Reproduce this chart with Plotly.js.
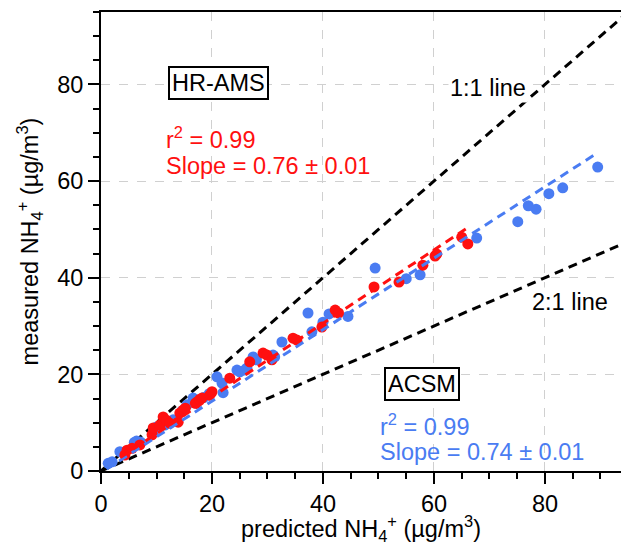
<!DOCTYPE html>
<html>
<head>
<meta charset="utf-8">
<script src="https://cdn.plot.ly/plotly-3.0.1.min.js"></script>
<style>html,body{margin:0;padding:0;background:#fff}#chart{width:621px;height:545px}</style>
</head>
<body>
<div id="chart"></div>
<script>
// ACSM (blue) predicted vs measured NH4+
const acsmX = [1.3,2.0,3.4,4.2,6.0,6.4,7.1,9.5,10.0,11.5,13.0,14.6,15.5,16.6,17.2,18.5,19.5,20.9,21.8,22.0,24.5,25.0,25.9,26.3,27.4,28.0,31.0,31.3,32.6,37.3,38.0,40.0,41.1,44.5,49.4,55.0,57.5,67.7,75.1,77.0,78.4,80.7,83.2,89.5];
const acsmY = [1.6,1.9,4.0,3.9,5.9,6.2,6.0,8.3,9.1,9.5,10.6,12.4,13.7,15.1,14.0,15.2,16.0,19.5,18.2,16.2,20.9,20.5,20.9,21.3,23.6,23.0,24.0,23.6,26.7,32.7,28.8,30.8,32.5,32.0,42.0,39.8,40.6,48.2,51.6,54.9,54.2,57.4,58.6,62.9];
// HR-AMS (red)
const amsX = [4.3,4.7,5.6,7.0,9.2,9.4,10.6,11.2,11.8,12.4,13.9,14.2,14.8,15.2,17.0,17.3,17.8,18.2,19.6,20.0,23.2,26.8,29.2,29.9,30.8,34.6,35.3,39.8,42.2,42.8,49.2,53.7,58.0,60.2,60.5,65.0,66.1];
const amsY = [3.3,4.3,4.7,5.4,7.5,8.9,9.5,11.2,10.5,9.9,10.1,12.0,12.6,13.0,14.0,14.3,14.8,15.1,15.7,16.4,19.2,22.6,24.4,24.0,23.0,27.5,27.1,29.8,33.3,32.7,38.1,39.1,42.6,44.5,44.9,48.4,47.0];
// fit lines
const amsFitX = [3.5, 66.0];
const amsFitY = [2.8, 50.3];
const acsmFitX = [1.0, 89.4];
const acsmFitY = [0.4, 65.8];
// reference lines
const oneToOneX = [0, 95];
const oneToOneY = [0, 95];
const twoToOneX = [0, 95];
const twoToOneY = [0, 47.5];

const BLUE = '#4a7cf2';
const RED = '#ff1010';
const F = '"Liberation Sans", Arial, sans-serif';
const FS = 23.5;

const traces = [
  {x: oneToOneX, y: oneToOneY, mode: 'lines', line: {color: '#000', width: 3, dash: '9px,6px'}, hoverinfo: 'skip'},
  {x: twoToOneX, y: twoToOneY, mode: 'lines', line: {color: '#000', width: 3, dash: '9px,6px'}, hoverinfo: 'skip'},
  {x: acsmX, y: acsmY, mode: 'markers', marker: {color: BLUE, size: 11}},
  {x: amsX, y: amsY, mode: 'markers', marker: {color: RED, size: 11}},
  {x: acsmFitX, y: acsmFitY, mode: 'lines', line: {color: BLUE, width: 3, dash: '9px,6px'}},
  {x: amsFitX, y: amsFitY, mode: 'lines', line: {color: RED, width: 3, dash: '9px,6px'}}
];

const layout = {
  width: 621, height: 545,
  margin: {l: 101, r: 0, t: 12, b: 74},
  showlegend: false,
  paper_bgcolor: '#fff', plot_bgcolor: '#fff',
  font: {family: F, size: FS, color: '#000'},
  xaxis: {
    range: [0, 93.7], tickvals: [0,20,40,60,80], ticks: 'outside', ticklen: 11, tickwidth: 2, tickcolor: '#000',
    showline: true, linewidth: 2, linecolor: '#000', mirror: true,
    showgrid: true, gridcolor: '#d0d0d0', gridwidth: 1, griddash: 'dash', zeroline: false,
    minor: {dtick: 5, ticks: 'outside', ticklen: 6, tickwidth: 2, tickcolor: '#000', showgrid: false},
    tickfont: {family: F, size: FS, color: '#000'},
    title: {text: 'predicted NH<sub>4</sub><sup>+</sup> (µg/m<sup>3</sup>)', font: {family: F, size: FS, color: '#000'}, standoff: 4}
  },
  yaxis: {
    range: [0, 95], tickvals: [0,20,40,60,80], ticks: 'outside', ticklen: 11, tickwidth: 2, tickcolor: '#000',
    showline: true, linewidth: 2, linecolor: '#000',
    showgrid: true, gridcolor: '#d0d0d0', gridwidth: 1, griddash: 'dash', zeroline: false,
    minor: {dtick: 5, ticks: 'outside', ticklen: 6, tickwidth: 2, tickcolor: '#000', showgrid: false},
    tickfont: {family: F, size: FS, color: '#000'},
    title: {text: 'measured NH<sub>4</sub><sup>+</sup> (µg/m<sup>3</sup>)', font: {family: F, size: FS, color: '#000'}, standoff: 12}
  },
  annotations: [
    {x: 69.7, y: 79.3, text: '1:1 line', showarrow: false, bgcolor: '#fff', font: {family: F, size: FS, color: '#000'}},
    {x: 84.5, y: 35, text: '2:1 line', showarrow: false, bgcolor: '#fff', font: {family: F, size: FS, color: '#000'}},
    {x: 21.1, y: 80.3, text: 'HR-AMS', showarrow: false, bgcolor: '#fff', bordercolor: '#000', borderwidth: 2, borderpad: 2, font: {family: F, size: FS, color: '#000'}},
    {x: 11.3, y: 69, xanchor: 'left', text: 'r<sup>2</sup> = 0.99', showarrow: false, font: {family: F, size: FS, color: RED}},
    {x: 11.3, y: 63.1, xanchor: 'left', text: 'Slope = 0.76 ± 0.01', showarrow: false, font: {family: F, size: FS, color: RED}},
    {x: 57.8, y: 18.1, text: 'ACSM', showarrow: false, bgcolor: '#fff', bordercolor: '#000', borderwidth: 2, borderpad: 2, font: {family: F, size: FS, color: '#000'}},
    {x: 50.0, y: 9.5, xanchor: 'left', text: 'r<sup>2</sup> = 0.99', showarrow: false, font: {family: F, size: FS, color: BLUE}},
    {x: 50.0, y: 3.9, xanchor: 'left', text: 'Slope = 0.74 ± 0.01', showarrow: false, font: {family: F, size: FS, color: BLUE}}
  ]
};

Plotly.newPlot('chart', traces, layout, {displayModeBar: false, staticPlot: true});
</script>
</body>
</html>
